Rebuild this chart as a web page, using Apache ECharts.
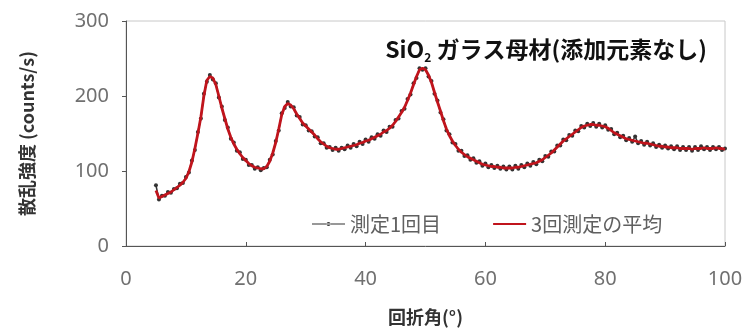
<!DOCTYPE html>
<html><head><meta charset="utf-8">
<script src="https://cdn.jsdelivr.net/npm/echarts@6/dist/echarts.min.js"></script>
<style>html,body{margin:0;padding:0;background:#fff}#c{width:754px;height:331px}</style>
</head><body><div id="c"></div>
<script>
// 2θ sampling: 5.0 to 100.0 in 0.5° steps
const angleStart = 5;
const angleStep = 0.5;
const seriesNames = ['測定1回目', '3回測定の平均'];
const yTicks = [0, 100, 200, 300];
const xTicks = [0, 20, 40, 60, 80, 100];

// 測定1回目 (first measurement)
const measured1 = [
 81,62,67,67,72,71,76,77,83,84,
 92,98,114,128,152,170,203,219,228,222,
 217,198,186,168,158,143,138,127,125,116,
 115,108,108,103,105,101,104,105,115,122,
 140,154,177,184,192,186,185,174,172,162,
 161,154,153,146,145,137,137,131,132,128,
 131,127,131,129,134,131,136,133,139,136,
 142,139,145,143,149,147,154,152,159,159,
 168,170,180,183,196,202,217,224,237,235,
 237,226,220,203,194,178,169,154,149,138,
 136,127,127,120,121,115,117,111,113,107,
 110,105,108,104,107,103,106,102,106,102,
 107,103,108,105,110,107,112,109,115,113,
 120,119,126,126,134,134,142,141,148,147,
 154,153,160,158,163,160,164,159,163,158,
 161,155,156,149,151,145,147,141,144,139,
 146,137,140,135,139,134,137,132,135,131,
 134,130,133,129,133,128,132,128,132,127,
 132,128,133,129,132,128,132,129,132,128,
 130
];

// 3回測定の平均 (average of three measurements)
const average3 = [
 74,64,66,68,70,72,75,78,81,85,
 90,99,112,130,150,172,200,221,226,224,
 215,200,184,170,156,145,136,129,123,118,
 114,110,107,105,104,103,103,106,113,124,
 138,156,175,186,190,188,183,176,170,164,
 160,156,152,148,143,139,136,133,131,130,
 129,129,130,131,132,133,134,135,137,138,
 140,141,143,145,147,149,152,154,157,161,
 166,172,178,185,194,204,215,226,235,237,
 235,228,218,205,192,180,167,156,147,140,
 134,129,125,122,119,117,115,113,111,109,
 108,107,106,106,105,105,104,104,104,104,
 105,105,106,107,108,109,110,111,113,115,
 118,121,124,128,132,136,140,143,146,149,
 152,155,158,160,161,162,162,161,161,160,
 159,157,154,151,149,147,145,143,142,141,
 140,139,138,137,137,136,135,134,133,133,
 132,132,131,131,131,130,130,130,130,129,
 130,130,130,131,130,130,130,131,130,130,
 129
];

const pair = arr => arr.map((v, i) => [angleStart + i * angleStep, v]);

const FONT = '"Noto Sans CJK JP", "Noto Sans", sans-serif';
const NUMFONT = '"Noto Sans", sans-serif';
const iconLineDot = 'path://M0,0M0,10M0,4.4L33,4.4L33,5.6L0,5.6Z M14.5,5a2,2 0 1,0 4,0a2,2 0 1,0 -4,0Z';
const iconLine = 'path://M0,0M0,10M0,4L33,4L33,6L0,6Z';

const chart = echarts.init(document.getElementById('c'), null, {renderer: 'canvas'});
chart.setOption({
  animation: false,
  backgroundColor: '#fff',
  textStyle: {fontFamily: FONT},
  title: {
    text: 'SiO{sub|2} ガラス母材(添加元素なし)',
    right: 42, top: 31,
    textStyle: {
      fontFamily: FONT, fontSize: 23, fontWeight: 'bold', color: '#111',
      rich: {sub: {fontSize: 12, fontWeight: 'bold', color: '#111', verticalAlign: 'bottom', padding: [15, 0, 0, 0]}}
    }
  },
  legend: {
    left: 307, top: 209,
    itemWidth: 33, itemHeight: 10, itemGap: 52,
    textStyle: {fontFamily: FONT, fontSize: 20, color: '#606060'},
    data: [
      {name: seriesNames[0], icon: iconLineDot, itemStyle: {color: '#333'}},
      {name: seriesNames[1], icon: iconLine}
    ]
  },
  grid: {left: 126, right: 29, top: 21, bottom: 83, show: true, borderColor: '#c8c8c8', borderWidth: 1},
  xAxis: {
    type: 'value', min: 0, max: 100, interval: 20,
    axisLine: {show: true, lineStyle: {color: '#555', width: 1}},
    axisTick: {show: true, inside: true, length: 4, lineStyle: {color: '#555'}},
    axisLabel: {fontSize: 20, color: '#707070', margin: 23, fontFamily: NUMFONT},
    splitLine: {show: false},
    name: '回折角(°)', nameLocation: 'middle', nameGap: 62,
    nameTextStyle: {fontSize: 18, fontWeight: 'bold', color: '#333', fontFamily: FONT}
  },
  yAxis: {
    type: 'value', min: 0, max: 300, interval: 100,
    axisLine: {show: true, lineStyle: {color: '#555', width: 1}},
    axisTick: {show: true, inside: false, length: 4, lineStyle: {color: '#555'}},
    axisLabel: {fontSize: 20, color: '#707070', margin: 17, fontFamily: NUMFONT},
    splitLine: {show: false},
    name: '散乱強度 (counts/s)', nameLocation: 'middle', nameGap: 90,
    nameTextStyle: {fontSize: 18, fontWeight: 'bold', color: '#333', fontFamily: FONT}
  },
  series: [
    {
      name: seriesNames[0], type: 'line', data: pair(measured1),
      symbol: 'circle', symbolSize: 4, showSymbol: true,
      itemStyle: {color: '#333'},
      lineStyle: {color: '#333', width: 1.5}, z: 2
    },
    {
      name: seriesNames[1], type: 'line', data: pair(average3),
      symbol: 'none',
      itemStyle: {color: '#c0141c'},
      lineStyle: {color: '#c0141c', width: 2.8}, z: 3
    }
  ]
});
</script></body></html>
